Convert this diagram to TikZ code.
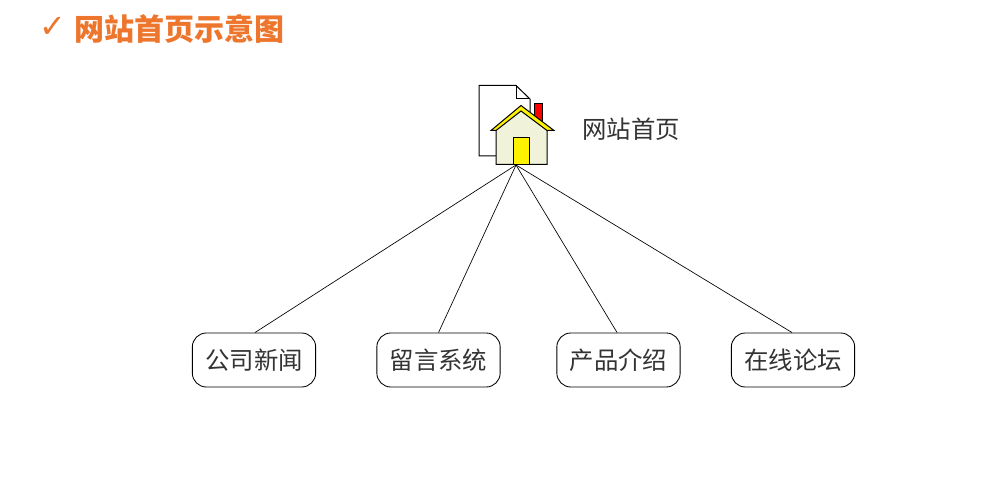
\documentclass[tikz,border=0pt]{standalone}
\usepackage{fontspec}
\setmainfont{Liberation Sans}
\newfontfamily\cjk{Noto Sans CJK SC}
\newfontfamily\symf{DejaVu Sans}
\definecolor{ttl}{RGB}{237,117,44}
\definecolor{wall}{RGB}{241,242,218}
\tikzset{
  page/.style={x=0.75pt,y=-0.75pt},
  menubox/.style={draw=black,line width=0.65pt,rounded corners=10.5pt,minimum width=92.5pt,minimum height=40.5pt,inner sep=0pt,font=\cjk\fontsize{18.3}{19}\selectfont,text=black!80},
  link/.style={draw=black,line width=0.5pt},
  icon/.style={draw=black,line width=0.75pt,line join=miter},
}
\begin{document}
\begin{tikzpicture}[page]
\useasboundingbox (0,0) rectangle (1002,481);
\node[text=ttl,font=\symf\fontsize{24}{26}\selectfont,anchor=center,inner sep=0pt] (check) at (52.5,27) {✓};
\node[text=ttl,font=\cjk\bfseries\fontsize{22.5}{24}\selectfont,anchor=west,inner sep=0pt] (title) at (74,28.5) {网站首页示意图};
% page icon
\draw[icon,fill=white] (479,85.5) -- (516,85.5) -- (530,99) -- (530,156) -- (479,156) -- cycle;
\draw[icon] (516,85.5) -- (516,99) -- (530,99);
\draw[icon,fill=red] (534.5,103.5) rectangle (542,122);
% house
\draw[icon,fill=wall] (496,130) -- (521,108) -- (547,130) -- (547,164.5) -- (496,164.5) -- cycle;
\draw[icon,fill=yellow] (491,130.5) -- (521,105.5) -- (554,130.5) -- (547,130.5) -- (521,111) -- (496,130.5) -- cycle;
\draw[icon,fill=yellow] (513.5,137.5) rectangle (529,164.5);
\coordinate (hub) at (516,165);
\node[font=\cjk\fontsize{18.3}{19}\selectfont,text=black!80,anchor=center,inner sep=0pt] (home) at (631,129.5) {网站首页};
\node[menubox] (a) at (254,360) {\raisebox{1pt}{公司新闻}};
\node[menubox] (b) at (438.5,360) {\raisebox{1pt}{留言系统}};
\node[menubox] (c) at (618.5,360) {\raisebox{1pt}{产品介绍}};
\node[menubox] (d) at (793,360) {\raisebox{1pt}{在线论坛}};
\draw[link] (hub) -- (a.88);
\draw[link] (hub) -- (b.north);
\draw[link] (hub) -- (c.93);
\draw[link] (hub) -- (d.92);
\end{tikzpicture}
\end{document}
